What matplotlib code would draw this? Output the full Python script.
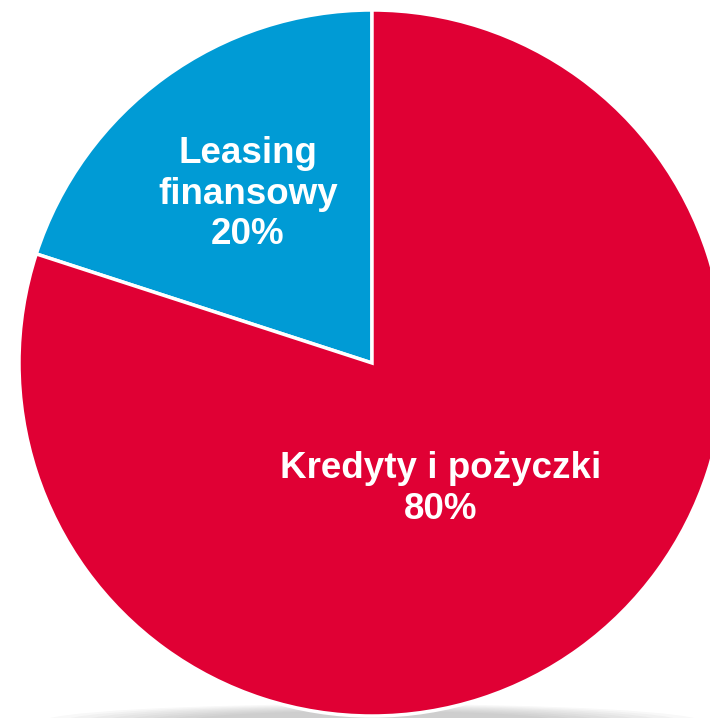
import matplotlib.pyplot as plt
from matplotlib.patches import Ellipse

labels = ["Leasing\nfinansowy\n20%", "Kredyty i pożyczki\n80%"]
values = [20, 80]
colors = ["#009BD5", "#E00034"]

fig = plt.figure(figsize=(7.10, 7.18), dpi=100)
ax = fig.add_axes([0, 0, 1, 1])

# soft grey shadow under the pie
for i in range(8):
    ax.add_patch(Ellipse((372, -4), 660 - i * 40, 36 - i * 2,
                         color="#888888", alpha=0.06, lw=0, zorder=0))

# pie is bigger than the canvas, cut off at the right and bottom
ax.pie(values, colors=colors, startangle=90, counterclock=True,
       center=(372, 355), radius=353, frame=True,
       wedgeprops=dict(edgecolor="white", linewidth=2.5, zorder=2))
ax.set_xlim(0, 710)
ax.set_ylim(0, 718)
ax.set_aspect("equal")
ax.axis("off")

ax.text(248, 524, labels[0], color="white", fontsize=26.5, fontweight="bold",
        family="Liberation Sans", ha="center", va="center", linespacing=1.22,
        zorder=3)
ax.text(441, 229, labels[1], color="white", fontsize=26.5, fontweight="bold",
        family="Liberation Sans", ha="center", va="center", linespacing=1.22,
        zorder=3)

fig.savefig("out.png", dpi=100)
